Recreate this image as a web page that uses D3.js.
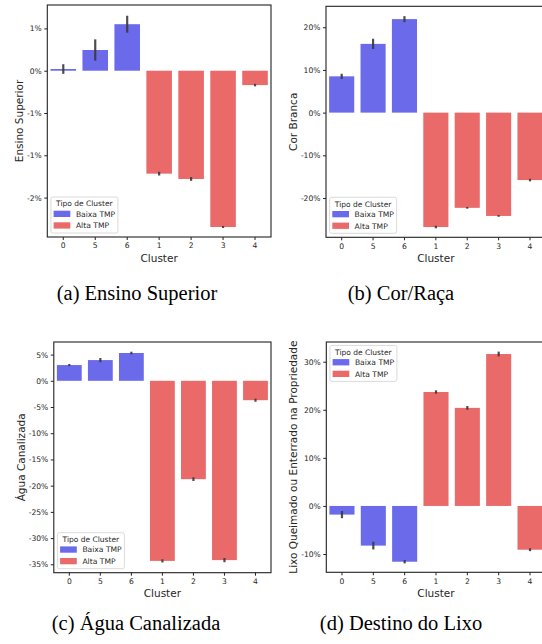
<!DOCTYPE html>
<html>
<head>
<meta charset="utf-8">
<script src="https://cdn.jsdelivr.net/npm/d3@7"></script>
<style>
  body { margin: 0; background: #fff; }
  svg { display: block; }
</style>
</head>
<body>
<svg id="chart"></svg>
<script>
// cluster order as in the figure, and which group each belongs to
let clusters = ["0", "5", "6", "1", "2", "3", "4"];
let groups = ["Baixa TMP", "Baixa TMP", "Baixa TMP", "Alta TMP", "Alta TMP", "Alta TMP", "Alta TMP"];
let groupNames = ["Baixa TMP", "Alta TMP"];

// (a) Ensino Superior
let ensinoVals = [0.0002, 0.00245, 0.0055, -0.01217, -0.0128, -0.01848, -0.0017];
let ensinoErr = [0.00057, 0.00126, 0.001, 0.00022, 0.00022, 0.00012, 0.00015];
let ensinoTicks = [0.005, 0, -0.005, -0.01, -0.015];
let ensinoTickLabels = ["1%", "0%", "-1%", "-1%", "-2%"];

// (b) Cor/Raça
let corVals = [0.085, 0.161, 0.219, -0.268, -0.223, -0.242, -0.158];
let corErr = [0.006, 0.012, 0.007, 0.003, 0.002, 0.002, 0.003];
let corTicks = [0.2, 0.1, 0, -0.1, -0.2];
let corTickLabels = ["20%", "10%", "0%", "-10%", "-20%"];

// (c) Água Canalizada
let aguaVals = [0.03, 0.0395, 0.053, -0.3435, -0.1876, -0.342, -0.037];
let aguaErr = [0.002, 0.004, 0.0025, 0.003, 0.0035, 0.004, 0.003];
let aguaTicks = [0.05, 0, -0.05, -0.1, -0.15, -0.2, -0.25, -0.3, -0.35];
let aguaTickLabels = ["5%", "0%", "-5%", "-10%", "-15%", "-20%", "-25%", "-30%", "-35%"];

// (d) Destino do Lixo
let lixoVals = [-0.018, -0.0825, -0.116, 0.237, 0.204, 0.316, -0.091];
let lixoErr = [0.0075, 0.008, 0.0035, 0.0035, 0.004, 0.005, 0.003];
let lixoTicks = [0.3, 0.2, 0.1, 0, -0.1];
let lixoTickLabels = ["30%", "20%", "10%", "0%", "-10%"];

let colors = {"Baixa TMP": "#6a6aea", "Alta TMP": "#ea6a6a"};
let textColor = "#262626";

let svg = d3.select("#chart")
  .attr("width", 542)
  .attr("height", 644);

function drawPanel(p) {
  let x = d3.scaleBand()
    .domain(clusters)
    .range([p.left, p.right])
    .paddingInner(0.2)
    .paddingOuter(0.1);
  let y = d3.scaleLinear().domain(p.domain).range([p.bottom, p.top]);

  let g = svg.append("g");

  let rows = clusters.map(function(c, i) {
    return {cluster: c, group: groups[i], value: p.values[i], err: p.errs[i]};
  });

  g.selectAll("rect.bar")
    .data(rows)
    .enter().append("rect")
      .attr("class", "bar")
      .attr("x", function(d) { return x(d.cluster); })
      .attr("width", x.bandwidth())
      .attr("y", function(d) { return y(Math.max(0, d.value)); })
      .attr("height", function(d) { return Math.abs(y(d.value) - y(0)); })
      .attr("fill", function(d) { return colors[d.group]; });

  g.selectAll("line.err")
    .data(rows)
    .enter().append("line")
      .attr("class", "err")
      .attr("x1", function(d) { return x(d.cluster) + x.bandwidth() / 2; })
      .attr("x2", function(d) { return x(d.cluster) + x.bandwidth() / 2; })
      .attr("y1", function(d) { return y(d.value - d.err); })
      .attr("y2", function(d) { return y(d.value + d.err); })
      .attr("stroke", "#3a3a3a")
      .attr("stroke-opacity", 0.9)
      .attr("stroke-width", 2.2);

  // axes
  let yAxis = g.append("g")
    .attr("transform", "translate(" + p.left + ",0)")
    .call(d3.axisLeft(y)
      .tickValues(p.ticks)
      .tickFormat(function(d, i) { return p.tickLabels[i]; })
      .tickSize(3)
      .tickPadding(2.5));
  let xAxis = g.append("g")
    .attr("transform", "translate(0," + p.bottom + ")")
    .call(d3.axisBottom(x).tickSize(3).tickPadding(3));

  [xAxis, yAxis].forEach(function(ax) {
    ax.select(".domain").remove();
    ax.selectAll("line").attr("stroke", "#222").attr("stroke-width", 1);
    ax.selectAll("text")
      .attr("fill", textColor)
      .style("font-family", "DejaVu Sans")
      .style("font-size", "7.6px");
  });

  // frame
  g.append("rect")
    .attr("x", p.left)
    .attr("y", p.top)
    .attr("width", p.right - p.left)
    .attr("height", p.bottom - p.top)
    .attr("fill", "none")
    .attr("stroke", "#222")
    .attr("stroke-width", 1.1);

  // axis titles
  g.append("text")
    .attr("x", (p.left + p.right) / 2)
    .attr("y", p.bottom + 24.5)
    .attr("text-anchor", "middle")
    .attr("fill", textColor)
    .style("font-family", "DejaVu Sans")
    .style("font-size", "10.5px")
    .text("Cluster");

  g.append("text")
    .attr("transform", "translate(" + p.ylabelX + "," + ((p.top + p.bottom) / 2) + ") rotate(-90)")
    .attr("text-anchor", "middle")
    .attr("fill", textColor)
    .style("font-family", "DejaVu Sans")
    .style("font-size", "10.5px")
    .text(p.ylabel);

  // legend
  let lx = p.left + 3.6;
  let ly = p.legendTop ? p.top + 3.4 : p.bottom - 40;
  let leg = g.append("g").attr("transform", "translate(" + lx + "," + ly + ")");
  leg.append("rect")
    .attr("width", 67)
    .attr("height", 36)
    .attr("rx", 2)
    .attr("fill", "#fff")
    .attr("fill-opacity", 0.8)
    .attr("stroke", "#d0d0d0")
    .attr("stroke-width", 0.8);
  leg.append("text")
    .attr("x", 33.5)
    .attr("y", 9.3)
    .attr("text-anchor", "middle")
    .attr("fill", textColor)
    .style("font-family", "DejaVu Sans")
    .style("font-size", "7.5px")
    .text("Tipo de Cluster");
  groupNames.forEach(function(name, i) {
    leg.append("rect")
      .attr("x", 2.7)
      .attr("y", 13.7 + i * 11.6)
      .attr("width", 16.7)
      .attr("height", 6.3)
      .attr("fill", colors[name]);
    leg.append("text")
      .attr("x", 25)
      .attr("y", 19.8 + i * 11.6)
      .attr("fill", textColor)
      .style("font-family", "DejaVu Sans")
      .style("font-size", "7.6px")
      .text(name);
  });

  // caption
  svg.append("text")
    .attr("x", p.captionX)
    .attr("y", p.captionY)
    .attr("text-anchor", "middle")
    .attr("fill", "#000")
    .style("font-family", "Liberation Serif")
    .style("font-size", "20.5px")
    .text(p.caption);
}

drawPanel({
  left: 47.3, right: 271, top: 5, bottom: 237,
  domain: [-0.01966, 0.00777],
  values: ensinoVals, errs: ensinoErr,
  ticks: ensinoTicks, tickLabels: ensinoTickLabels,
  ylabel: "Ensino Superior", ylabelX: 23,
  legendTop: false,
  caption: "(a) Ensino Superior", captionX: 137, captionY: 300
});

drawPanel({
  left: 326, right: 545.7, top: 6.3, bottom: 237.3,
  domain: [-0.292, 0.249],
  values: corVals, errs: corErr,
  ticks: corTicks, tickLabels: corTickLabels,
  ylabel: "Cor Branca", ylabelX: 296.5,
  legendTop: false,
  caption: "(b) Cor/Raça", captionX: 401, captionY: 300
});

drawPanel({
  left: 53.8, right: 271, top: 342, bottom: 572.7,
  domain: [-0.366, 0.074],
  values: aguaVals, errs: aguaErr,
  ticks: aguaTicks, tickLabels: aguaTickLabels,
  ylabel: "Água Canalizada", ylabelX: 24.5,
  legendTop: false,
  caption: "(c) Água Canalizada", captionX: 136, captionY: 630
});

drawPanel({
  left: 326.3, right: 545.7, top: 342, bottom: 572.3,
  domain: [-0.138, 0.341],
  values: lixoVals, errs: lixoErr,
  ticks: lixoTicks, tickLabels: lixoTickLabels,
  ylabel: "Lixo Queimado ou Enterrado na Propriedade", ylabelX: 296.5,
  legendTop: true,
  caption: "(d) Destino do Lixo", captionX: 401, captionY: 630
});
</script>
</body>
</html>
